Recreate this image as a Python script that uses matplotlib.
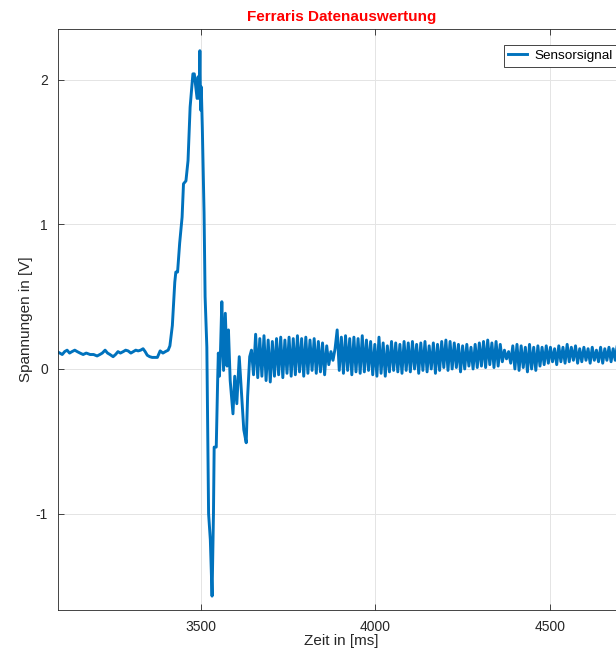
import numpy as np
import matplotlib
matplotlib.use("Agg")
import matplotlib.pyplot as plt

plt.rcParams['font.family'] = ['Liberation Sans', 'DejaVu Sans']
plt.rcParams['axes.unicode_minus'] = False

# Sensor signal before the oscillating tail (time in ms, voltage in V)
t_head = [3086, 3094, 3101, 3108, 3115, 3122, 3129, 3137, 3144, 3152,
          3161, 3170, 3181, 3191, 3201, 3209, 3216, 3224, 3231, 3238,
          3247, 3254, 3261, 3268, 3276, 3283, 3290, 3298, 3305, 3312,
          3319, 3326, 3333, 3339, 3345, 3352, 3359, 3366, 3374, 3382,
          3390, 3397, 3405, 3410, 3413, 3417, 3420, 3424, 3427, 3432,
          3438, 3445, 3449, 3456, 3462, 3468, 3476, 3480, 3488, 3491,
          3494, 3496, 3498, 3500, 3503, 3508, 3511, 3516, 3521, 3526,
          3531, 3535, 3537, 3543, 3547, 3549, 3552, 3555, 3559, 3564,
          3569, 3574, 3578, 3583, 3591, 3596, 3602, 3609, 3615, 3622,
          3629, 3633, 3639, 3644]
v_head = [0.12, 0.11, 0.10, 0.12, 0.13, 0.11, 0.12, 0.13, 0.12, 0.11,
          0.10, 0.11, 0.10, 0.10, 0.09, 0.10, 0.11, 0.13, 0.11, 0.10,
          0.085, 0.10, 0.12, 0.11, 0.12, 0.13, 0.125, 0.11, 0.12, 0.13,
          0.125, 0.13, 0.14, 0.12, 0.095, 0.085, 0.08, 0.08, 0.08, 0.125,
          0.11, 0.12, 0.13, 0.16, 0.22, 0.30, 0.43, 0.60, 0.67, 0.67,
          0.87, 1.05, 1.28, 1.30, 1.44, 1.81, 2.04, 2.04, 1.87, 2.02,
          1.87, 2.20, 1.79, 1.95, 1.67, 1.08, 0.50, 0.15, -1.00, -1.18,
          -1.57, -1.00, -0.54, -0.54, -0.08, 0.11, -0.05, 0.11, 0.465, -0.01,
          0.385, 0.02, 0.27, -0.08, -0.31, -0.05, -0.24, 0.085, -0.145, -0.42,
          -0.51, -0.19, 0.085, 0.13]

# Oscillating tail, sampled every 6 ms from 3650 ms
tail_start = 3650
tail_dt = 6
v_tail = [-0.04, 0.24, -0.06, 0.21, -0.05, 0.23, -0.08, 0.20, -0.09, 0.19,
          -0.05, 0.21, -0.04, 0.22, -0.06, 0.20, -0.03, 0.22, -0.05, 0.21,
          -0.04, 0.23, -0.02, 0.21, -0.05, 0.22, -0.03, 0.20, -0.01, 0.21,
          -0.03, 0.19, -0.02, 0.18, -0.04, 0.16, 0.03, 0.12, 0.06, 0.14,
          0.27, -0.01, 0.22, -0.03, 0.23, -0.01, 0.21, -0.04, 0.22, -0.02,
          0.21, -0.03, 0.23, -0.02, 0.20, -0.01, 0.19, -0.04, 0.17, -0.05,
          0.22, -0.03, 0.18, -0.05, 0.16, -0.02, 0.19, -0.01, 0.18, -0.02,
          0.17, -0.03, 0.19, -0.01, 0.18, -0.02, 0.19, 0.00, 0.17, -0.03,
          0.18, -0.01, 0.19, -0.02, 0.16, 0.00, 0.18, -0.03, 0.17, -0.01,
          0.19, 0.01, 0.20, -0.01, 0.19, 0.00, 0.18, 0.01, 0.17, -0.02,
          0.16, 0.00, 0.17, 0.02, 0.15, 0.00, 0.17, 0.01, 0.18, 0.02,
          0.19, 0.01, 0.20, 0.03, 0.18, 0.01, 0.19, 0.02, 0.17, 0.05,
          0.13, 0.07, 0.12, 0.04, 0.16, 0.00, 0.17, -0.01, 0.16, 0.01,
          0.15, -0.02, 0.17, 0.00, 0.15, -0.01, 0.16, 0.02, 0.15, 0.03,
          0.16, 0.04, 0.15, 0.05, 0.14, 0.03, 0.16, 0.05, 0.15, 0.04,
          0.17, 0.05, 0.15, 0.06, 0.16, 0.04, 0.14, 0.05, 0.15, 0.06,
          0.14, 0.04, 0.15, 0.06, 0.13, 0.05, 0.15, 0.04, 0.14, 0.06,
          0.15, 0.05, 0.14, 0.06, 0.17, 0.07, 0.16, 0.05, 0.15, 0.06, 0.16]

t_tail = tail_start + tail_dt * np.arange(len(v_tail))
t = np.concatenate([t_head, t_tail])
v = np.concatenate([v_head, v_tail])

fig = plt.figure(figsize=(6.16, 6.56), dpi=100)
W, H = 616, 656
ax = fig.add_axes([57.7 / W, 1 - 610 / H, (625 - 57.7) / W, (610 - 29) / H])

ax.plot(t, v, color='#0072BD', lw=2.1, label='Sensorsignal')

ax.set_xlim(3088, 4716)
ax.set_ylim(-1.666, 2.35)
ax.set_xticks([3500, 4000, 4500])
ax.set_yticks([-1, 0, 1, 2])
ax.grid(True, color='#e4e4e4', lw=0.7)
ax.set_axisbelow(True)
for s in ax.spines.values():
    s.set_color('#262626')
    s.set_linewidth(0.6)
ax.tick_params(direction='in', length=4, width=0.6, colors='#262626',
               labelsize=10, top=True, right=True, pad=7)

ax.set_title('Ferraris Datenauswertung', color='red', fontweight='bold',
             fontsize=11, pad=6)
ax.set_xlabel('Zeit in [ms]', fontsize=11, color='#262626', labelpad=0)
ax.set_ylabel('Spannungen in [V]', fontsize=11, color='#262626', labelpad=2)

leg = ax.legend(loc='upper right', bbox_to_anchor=(617 / W, 1 - 45 / H),
                bbox_transform=fig.transFigure, borderaxespad=0,
                fancybox=False, framealpha=1, edgecolor='#262626',
                fontsize=9.7, handlelength=1.4, handletextpad=0.5,
                borderpad=0.35)
leg.get_frame().set_linewidth(0.6)

fig.savefig('out.png', dpi=100)
